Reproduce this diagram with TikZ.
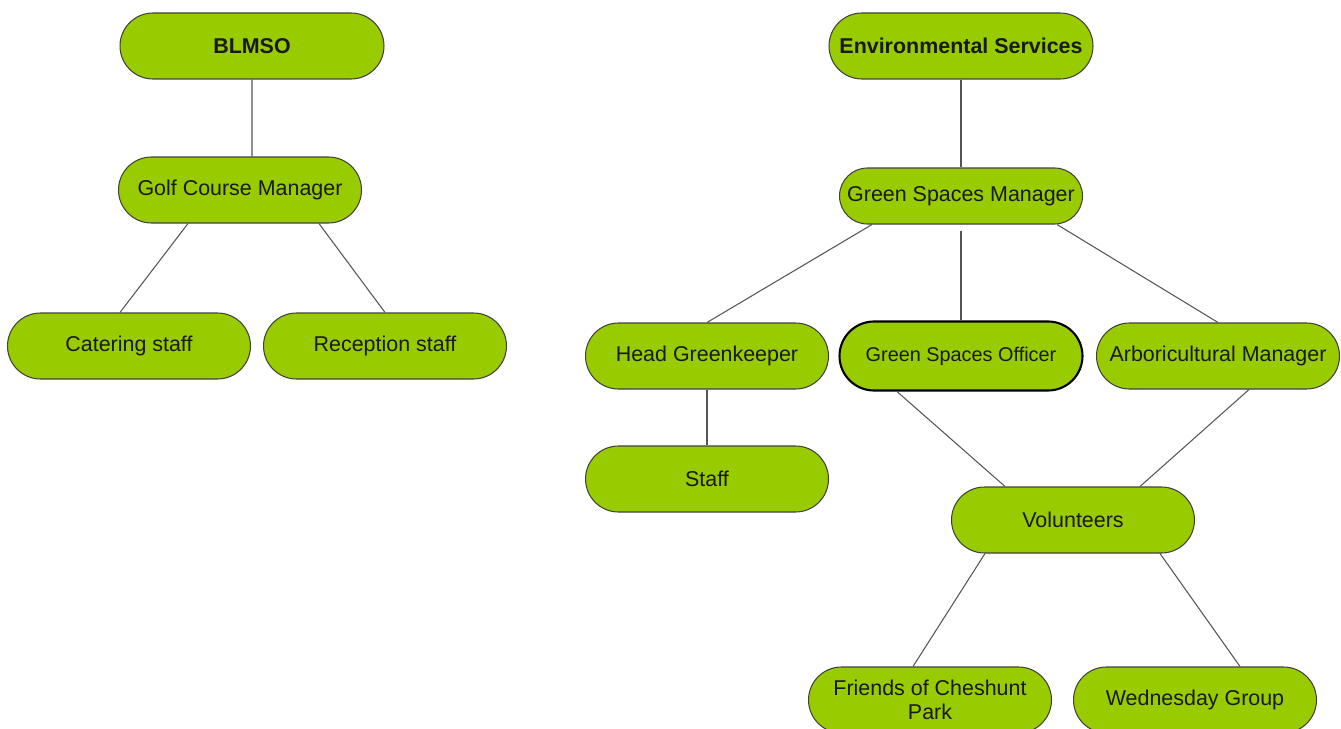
\documentclass[tikz,border=0pt]{standalone}
\usepackage{fontspec}
\setmainfont{Liberation Sans}
\usetikzlibrary{shapes.misc}
\definecolor{leaf}{HTML}{99CC00}
\definecolor{rim}{HTML}{404040}
\definecolor{wire}{HTML}{555555}

\begin{document}
\begin{tikzpicture}[
        box/.style={rounded rectangle, draw=rim, line width=0.6pt, fill=leaf, text=black!90,
            minimum width=5.0cm, minimum height=1.32cm, inner sep=2pt, align=center,
            font=\fontsize{12.2}{13.6}\selectfont},
        topbox/.style={box, minimum width=5.42cm, font=\fontsize{12.2}{13.6}\selectfont\bfseries},
        link/.style={draw=wire, line width=0.6pt}
    ]
        \useasboundingbox (0,0) rectangle (26.82,-14.58);

        % golf course side
        \node[topbox] (blmso) at (5.04, -0.92) {BLMSO};
        \node[box] (golf) at (4.80, -3.80) {Golf Course Manager};
        \node[box] (cater) at (2.58, -6.92) {Catering staff};
        \node[box] (recep) at (7.70, -6.92) {Reception staff};

        % green spaces side
        \node[topbox] (env) at (19.22, -0.92) {Environmental Services};
        \node[box, minimum height=1.12cm] (gsm) at (19.22, -3.92) {Green Spaces Manager};
        \node[box] (hgk) at (14.14, -7.12) {Head Greenkeeper};
        \node[box, draw=black, line width=1.2pt, minimum height=1.38cm,
            font=\fontsize{11.3}{13}\selectfont] (gso) at (19.22, -7.12) {Green Spaces Officer};
        \node[box] (arb) at (24.36, -7.12) {Arboricultural Manager};
        \node[box] (staff) at (14.14, -9.58) {Staff};
        \node[box] (vol) at (21.46, -10.40) {Volunteers};
        \node[box] (friends) at (18.60, -14.00) {Friends of Cheshunt\\Park};
        \node[box] (wed) at (23.90, -14.00) {Wednesday Group};

        \draw[link] (blmso.south) -- ([xshift=0.24cm]golf.north);
        \draw[link] ([xshift=-1.04cm]golf.south) -- ([xshift=-0.18cm]cater.north);
        \draw[link] ([xshift=1.58cm]golf.south) -- (recep.north);

        \draw[link] (env.south) -- (gsm.north);
        \draw[link] ([xshift=-1.78cm]gsm.south) -- (hgk.north);
        \draw[link] ([yshift=-0.12cm]gsm.south) -- (gso.north);
        \draw[link] ([xshift=1.92cm]gsm.south) -- (arb.north);
        \draw[link] (hgk.south) -- (staff.north);
        \draw[link] ([xshift=-1.28cm]gso.south) -- ([xshift=-1.36cm]vol.north);
        \draw[link] ([xshift=0.62cm]arb.south) -- ([xshift=1.34cm]vol.north);
        \draw[link] ([xshift=-1.76cm]vol.south) -- ([xshift=-0.34cm]friends.north);
        \draw[link] ([xshift=1.74cm]vol.south) -- ([xshift=0.90cm]wed.north);
    \end{tikzpicture}
\end{document}
